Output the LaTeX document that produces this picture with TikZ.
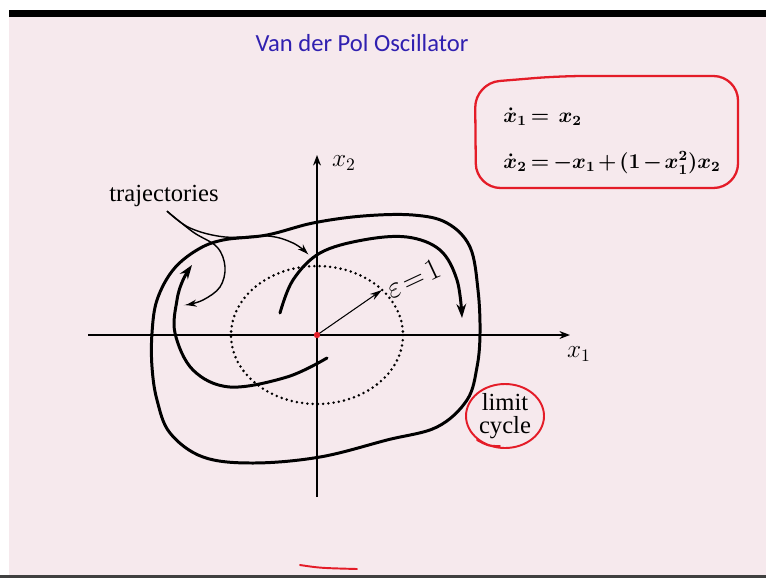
\documentclass[tikz,border=0pt]{standalone}
\usepackage{amsmath,amssymb}
\usepackage{fontspec}
\setmainfont{Liberation Serif}
\newfontfamily\titlefont{Carlito}
\usetikzlibrary{arrows.meta,calc}
\definecolor{slidebg}{RGB}{246,233,237}
\definecolor{titleblue}{RGB}{48,32,176}
\definecolor{penred}{RGB}{228,28,40}
\newcommand{\tightmath}{\medmuskip=2mu\relax\thickmuskip=3mu\relax}

\begin{document}
\begin{tikzpicture}[x=0.02cm, y=-0.02cm,
    curve/.style={line width=1.7pt, line cap=round},
    bigtip/.style={-{Stealth[length=8pt,width=5.5pt]}},
    leader/.style={line width=0.8pt, -{Stealth[length=6pt,width=4pt]}},
    axis/.style={line width=0.9pt, -{Stealth[length=6pt,width=4.5pt]}},
    pen/.style={draw=penred, line width=1.1pt, line cap=round},
    eqn/.style={font=\fontsize{12}{14}\selectfont\boldmath, anchor=west, inner sep=0pt},
    label/.style={font=\fontsize{14}{13}\selectfont, align=center, inner sep=0pt}]
  \useasboundingbox (0,0) rectangle (766,578);
  \fill[white] (0,0) rectangle (766,578);
  \fill[slidebg] (9,17) rectangle (766,575);
  \fill[black] (9,10) rectangle (766,17);
  \fill[black!75] (0,575) rectangle (766,578);

  \node[font=\fontsize{14}{16}\titlefont, text=titleblue] (title) at (362,43) {Van der Pol Oscillator};

  \draw[pen, line width=1.3pt, rounded corners=14pt]
    (476,188) -- (475,83) -- (560,76) -- (738,76) -- (738,188) -- cycle;
  \node[eqn] (eqa) at (503,117) {\tightmath$\dot{x}_1 = \ x_2$};
  \node[eqn] (eqb) at (503,163) {\tightmath$\dot{x}_2 = -x_1 + (1-x_1^2)x_2$};

  \coordinate (O) at (317,335);
  \coordinate (xlo) at (88,335);
  \coordinate (xhi) at (570,335);
  \coordinate (ylo) at (317,497);
  \coordinate (yhi) at (317,155);
  \draw[axis] (xlo) -- (xhi);
  \draw[axis] (ylo) -- (yhi);
  \node[label] (xa) at (579,354) {$x_1$};
  \node[label] (ya) at (344,163) {$x_2$};

  \draw[line width=1.6pt, dash pattern=on 0pt off 3pt, line cap=round] (O) ellipse [x radius=86, y radius=69];
  \coordinate (rim) at (382,290);
  \draw[line width=0.6pt, -{Stealth[length=7pt,width=4pt]}] (O) -- (rim);
  \node[rotate=25, font=\fontsize{17}{20}\selectfont] (eps) at (413,279) {$\varepsilon\!=\!1$};
  \fill[penred] (O) circle [radius=3.2];

  \draw[curve] plot[smooth cycle, tension=0.6] coordinates {
    (152,333) (157,300) (173,270) (197,250) (223,240) (267,235) (313,223)
    (363,216) (413,215) (447,223) (470,247) (478,290) (480,333) (477,367)
    (467,400) (437,427) (387,440) (320,457) (253,463) (203,457) (170,433)
    (157,400) (152,367)};
  \draw[curve, bigtip] plot[smooth, tension=0.6] coordinates {
    (280,313) (293,280) (320,253) (363,240) (407,237) (440,250) (457,280) (462,318)};
  \draw[curve, bigtip] plot[smooth, tension=0.6] coordinates {
    (327,358) (287,377) (230,387) (193,370) (175,333) (177,300) (183,280) (192,265)};

  \node[label] (traj) at (164,196) {trajectories};
  \coordinate (split) at ($(traj.south)+(3,4)$);
  \draw[leader] plot[smooth, tension=0.6] coordinates {
    (split) (190,228) (225,237) (268,236) (293,243) (308,254)};
  \draw[leader] plot[smooth, tension=0.6] coordinates {
    (split) (193,232) (217,247) (225,267) (220,287) (203,300) (186,305)};

  \node[label] (lc) at (505,416) {limit\\cycle};
  \draw[pen] (lc.center) ellipse [x radius=39, y radius=32];
  \draw[pen] (477,440) .. controls (488,446) .. (500,446);
  \draw[pen] (300,565) .. controls (320,568) .. (357,569);
\end{tikzpicture}
\end{document}
